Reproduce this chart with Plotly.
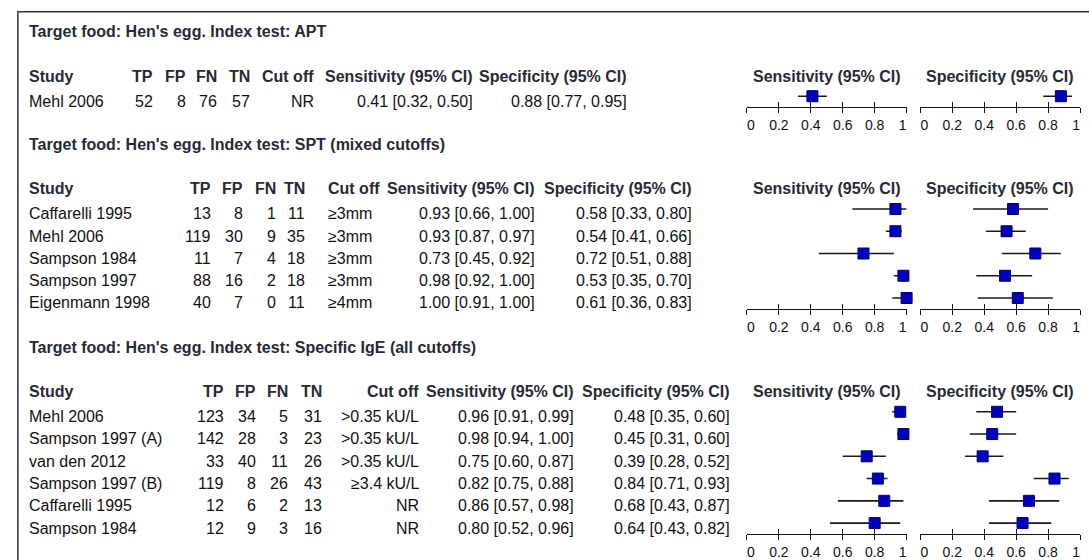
import plotly.graph_objects as go

W, H = 1089, 560

# ---------------- data ----------------
sec_titles = [
    "Target food: Hen's egg. Index test: APT",
    "Target food: Hen's egg. Index test: SPT (mixed cutoffs)",
    "Target food: Hen's egg. Index test: Specific IgE (all cutoffs)",
]

apt_study = ["Mehl 2006"]
apt_tp = [52]
apt_fp = [8]
apt_fn = [76]
apt_tn = [57]
apt_cut = ["NR"]
apt_sens = [0.41]
apt_sens_lo = [0.32]
apt_sens_hi = [0.50]
apt_spec = [0.88]
apt_spec_lo = [0.77]
apt_spec_hi = [0.95]

spt_study = ["Caffarelli 1995", "Mehl 2006", "Sampson 1984", "Sampson 1997", "Eigenmann 1998"]
spt_tp = [13, 119, 11, 88, 40]
spt_fp = [8, 30, 7, 16, 7]
spt_fn = [1, 9, 4, 2, 0]
spt_tn = [11, 35, 18, 18, 11]
spt_cut = ["≥3mm", "≥3mm", "≥3mm", "≥3mm", "≥4mm"]
spt_sens = [0.93, 0.93, 0.73, 0.98, 1.00]
spt_sens_lo = [0.66, 0.87, 0.45, 0.92, 0.91]
spt_sens_hi = [1.00, 0.97, 0.92, 1.00, 1.00]
spt_spec = [0.58, 0.54, 0.72, 0.53, 0.61]
spt_spec_lo = [0.33, 0.41, 0.51, 0.35, 0.36]
spt_spec_hi = [0.80, 0.66, 0.88, 0.70, 0.83]

ige_study = ["Mehl 2006", "Sampson 1997 (A)", "van den 2012", "Sampson 1997 (B)", "Caffarelli 1995", "Sampson 1984"]
ige_tp = [123, 142, 33, 119, 12, 12]
ige_fp = [34, 28, 40, 8, 6, 9]
ige_fn = [5, 3, 11, 26, 2, 3]
ige_tn = [31, 23, 26, 43, 13, 16]
ige_cut = [">0.35 kU/L", ">0.35 kU/L", ">0.35 kU/L", "≥3.4 kU/L", "NR", "NR"]
ige_sens = [0.96, 0.98, 0.75, 0.82, 0.86, 0.80]
ige_sens_lo = [0.91, 0.94, 0.60, 0.75, 0.57, 0.52]
ige_sens_hi = [0.99, 1.00, 0.87, 0.88, 0.98, 0.96]
ige_spec = [0.48, 0.45, 0.39, 0.84, 0.68, 0.64]
ige_spec_lo = [0.35, 0.31, 0.28, 0.71, 0.43, 0.43]
ige_spec_hi = [0.60, 0.60, 0.52, 0.93, 0.87, 0.82]

tick_vals = [0, 0.2, 0.4, 0.6, 0.8, 1]
tick_text = ["\u20070", "0.2", "0.4", "0.6", "0.8", "1\u2007"]

sections = [
    dict(study=apt_study, tp=apt_tp, fp=apt_fp, fn=apt_fn, tn=apt_tn, cut=apt_cut,
         sens=apt_sens, slo=apt_sens_lo, shi=apt_sens_hi,
         spec=apt_spec, plo=apt_spec_lo, phi=apt_spec_hi),
    dict(study=spt_study, tp=spt_tp, fp=spt_fp, fn=spt_fn, tn=spt_tn, cut=spt_cut,
         sens=spt_sens, slo=spt_sens_lo, shi=spt_sens_hi,
         spec=spt_spec, plo=spt_spec_lo, phi=spt_spec_hi),
    dict(study=ige_study, tp=ige_tp, fp=ige_fp, fn=ige_fn, tn=ige_tn, cut=ige_cut,
         sens=ige_sens, slo=ige_sens_lo, shi=ige_sens_hi,
         spec=ige_spec, plo=ige_spec_lo, phi=ige_spec_hi),
]

# ---------------- layout constants (pixels) ----------------
ROW_H = 22.5
plot_tops = [86, 200, 405]
col_pos = [
    dict(tp=148, fp=182, fn=213, tn=247, cut=312, cut_anchor="right", sens=473, spec=629),
    dict(tp=207, fp=240, fn=273, tn=302, cut=328, cut_anchor="left", sens=536, spec=695),
    dict(tp=220, fp=253, fn=285, tn=320, cut=418, cut_anchor="right", sens=575, spec=734),
]
SENS_X = (750, 912)
SPEC_X = (926, 1088)
STUDY_X = 24
XSHIFT = {"left": -5, "right": 1, "center": 0}
TEXT_DY = 2

FONT = "Liberation Sans, Arial, Helvetica, sans-serif"
HDR_COL = "#262a36"
TXT_COL = "#111111"


def px(x):
    return x / W


def py(y):
    return 1 - y / H


fig = go.Figure()
annotations = []
layout_axes = {}


def add_text(x, y, text, anchor="left", bold=False, size=16):
    annotations.append(dict(
        x=px(x), y=py(y + TEXT_DY), xref="paper", yref="paper", text=text,
        showarrow=False, xanchor=anchor, yanchor="middle", xshift=XSHIFT[anchor],
        font=dict(family=FONT, size=size, color=HDR_COL if bold else TXT_COL),
    ))


for s, (sec, top, cp) in enumerate(zip(sections, plot_tops, col_pos)):
    n = len(sec["study"])
    bottom = top + n * ROW_H
    hdr_y = top - 11
    title_y = hdr_y - 45

    add_text(STUDY_X, title_y, "<b>" + sec_titles[s] + "</b>", bold=True)
    add_text(STUDY_X, hdr_y, "<b>Study</b>", bold=True)
    for key, lab in [("tp", "TP"), ("fp", "FP"), ("fn", "FN"), ("tn", "TN")]:
        add_text(cp[key], hdr_y, "<b>" + lab + "</b>", anchor="right", bold=True)
    add_text(cp["cut"], hdr_y, "<b>Cut off</b>", anchor=cp["cut_anchor"], bold=True)
    add_text(cp["sens"], hdr_y, "<b>Sensitivity (95% CI)</b>", anchor="right", bold=True)
    add_text(cp["spec"], hdr_y, "<b>Specificity (95% CI)</b>", anchor="right", bold=True)
    add_text(sum(SENS_X) / 2, hdr_y, "<b>Sensitivity (95% CI)</b>", anchor="center", bold=True)
    add_text(sum(SPEC_X) / 2, hdr_y, "<b>Specificity (95% CI)</b>", anchor="center", bold=True)

    for i in range(n):
        ry = top + (i + 0.5) * ROW_H + 3
        add_text(STUDY_X, ry, sec["study"][i])
        for key in ["tp", "fp", "fn", "tn"]:
            add_text(cp[key], ry, str(sec[key][i]), anchor="right")
        add_text(cp["cut"], ry, sec["cut"][i], anchor=cp["cut_anchor"])
        add_text(cp["sens"], ry, "%.2f [%.2f, %.2f]" % (sec["sens"][i], sec["slo"][i], sec["shi"][i]), anchor="right")
        add_text(cp["spec"], ry, "%.2f [%.2f, %.2f]" % (sec["spec"][i], sec["plo"][i], sec["phi"][i]), anchor="right")

    ydom = [py(bottom), py(top)]
    for m, (xr, est, lo, hi) in enumerate([
        (SENS_X, sec["sens"], sec["slo"], sec["shi"]),
        (SPEC_X, sec["spec"], sec["plo"], sec["phi"]),
    ]):
        k = s * 2 + m + 1
        ko = k + 6
        rows = list(range(n))
        fig.add_trace(go.Scatter(
            x=est, y=rows, mode="markers",
            xaxis="x%d" % k, yaxis="y%d" % k,
            marker=dict(symbol="square", size=11, color="#0000C0",
                        line=dict(color="#00006a", width=1)),
            error_x=dict(type="data", symmetric=False,
                         array=[h - e for h, e in zip(hi, est)],
                         arrayminus=[e - l for e, l in zip(est, lo)],
                         color="#1a1a1a", thickness=1.6, width=0),
            cliponaxis=False, showlegend=False, hoverinfo="skip",
        ))
        fig.add_trace(go.Scatter(x=[], y=[], xaxis="x%d" % ko, yaxis="y%d" % k,
                                 showlegend=False, hoverinfo="skip"))
        xdom = [px(xr[0]), px(xr[1])]
        layout_axes["xaxis%d" % k] = dict(
            domain=xdom, range=[0, 1], anchor="y%d" % k,
            showline=True, linecolor="#111", linewidth=1.3,
            ticks="outside", ticklen=5, tickwidth=1.3, tickcolor="#111",
            tickvals=tick_vals, ticktext=tick_text,
            tickfont=dict(family=FONT, size=14, color="#111"),
            showgrid=False, zeroline=False, fixedrange=True,
        )
        layout_axes["xaxis%d" % ko] = dict(
            domain=xdom, range=[0, 1], anchor="y%d" % k, overlaying="x%d" % k,
            side="bottom", showline=False,
            ticks="inside", ticklen=5, tickwidth=1.3, tickcolor="#111",
            tickvals=tick_vals, showticklabels=False,
            showgrid=False, zeroline=False, fixedrange=True,
        )
        layout_axes["yaxis%d" % k] = dict(
            domain=ydom, range=[n - 0.5, -0.5], anchor="x%d" % k,
            visible=False, fixedrange=True,
        )

fig.update_layout(
    width=W, height=H,
    margin=dict(l=0, r=0, t=0, b=0),
    paper_bgcolor="white", plot_bgcolor="rgba(0,0,0,0)",
    font=dict(family=FONT, size=16, color=TXT_COL),
    annotations=annotations,
    shapes=[dict(type="rect", xref="paper", yref="paper",
                 x0=px(10), x1=1.05, y0=-0.05, y1=py(12),
                 line=dict(color="#333", width=1.5), fillcolor="rgba(0,0,0,0)")],
    **layout_axes,
)

fig.write_html("out.html")
